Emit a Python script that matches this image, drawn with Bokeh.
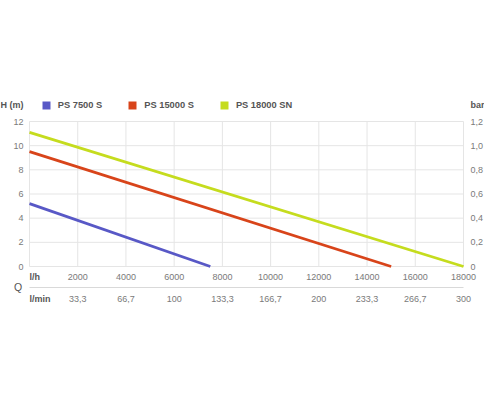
from bokeh.plotting import figure
from bokeh.models import Range1d, Legend, LegendItem
from bokeh.core.properties import value
from bokeh.embed import file_html
from bokeh.resources import INLINE

# pump curves: flow Q (l/h) against head H (m)
series_names = ["PS 7500 S", "PS 15000 S", "PS 18000 SN"]
series_colors = ["#5858c6", "#d8441a", "#c5dc1e"]
flow_ps7500 = [0, 7500]
head_ps7500 = [5.2, 0]
flow_ps15000 = [0, 15000]
head_ps15000 = [9.5, 0]
flow_ps18000 = [0, 18000]
head_ps18000 = [11.1, 0]

# axis ticks
head_ticks = [0, 2, 4, 6, 8, 10, 12]
bar_labels = ["0", "0,2", "0,4", "0,6", "0,8", "1,0", "1,2"]
flow_ticks = [2000, 4000, 6000, 8000, 10000, 12000, 14000, 16000, 18000]
flow_labels = [str(t) for t in flow_ticks]
lmin_labels = ["33,3", "66,7", "100", "133,3", "166,7", "200", "233,3", "266,7", "300"]

FONT = value("Liberation Sans")
GRID = "#e5e5e5"
LABEL = "#7a7a7a"
DARK = "#555555"

# the frame fills the whole canvas; the chart area sits inside it
W, H = 484, 384
left_px, right_px, top_px, bottom_px = 29, 463, 121, 266
q_max, h_max = flow_ticks[-1], head_ticks[-1]
qpp = q_max / (right_px - left_px)
hpp = h_max / (bottom_px - top_px)

p = figure(width=W, height=H, output_backend="svg", toolbar_location=None,
           x_range=Range1d(-left_px * qpp, q_max + (W - right_px) * qpp),
           y_range=Range1d(-(H - bottom_px) * hpp, h_max + top_px * hpp),
           x_axis_location=None, y_axis_location=None, min_border=0)
p.outline_line_color = None
p.xgrid.visible = False
p.ygrid.visible = False

# grid
grid_x = [0] + flow_ticks
p.segment(x0=grid_x, x1=grid_x, y0=[0] * len(grid_x), y1=[h_max] * len(grid_x),
          line_color=GRID, line_width=1)
p.segment(x0=[0] * len(head_ticks), x1=[q_max] * len(head_ticks), y0=head_ticks, y1=head_ticks,
          line_color=GRID, line_width=1)

# separator between the l/h and l/min rows
sep_y = -21 * hpp
p.segment(x0=[0], x1=[q_max], y0=[sep_y], y1=[sep_y], line_color="#d9d9d9", line_width=1)

# tick labels
tick_kw = dict(text_font=FONT, text_font_size="9px", text_color=LABEL, text_baseline="middle")
p.text(x=[0] * len(head_ticks), y=head_ticks, text=[str(t) for t in head_ticks],
       x_offset=-6, text_align="right", **tick_kw)
p.text(x=[q_max] * len(head_ticks), y=head_ticks, text=bar_labels,
       x_offset=7, text_align="left", **tick_kw)
p.text(x=flow_ticks, y=[0] * len(flow_ticks), text=flow_labels,
       y_offset=10.5, text_align="center", **tick_kw)
p.text(x=flow_ticks, y=[0] * len(flow_ticks), text=lmin_labels,
       y_offset=32.5, text_align="center", **tick_kw)

# axis names
name_kw = dict(text_font=FONT, text_font_size="9px", text_color=DARK,
               text_font_style="bold", text_baseline="middle")
p.text(x=[0], y=[h_max], text=["H (m)"], x_offset=-left_px, y_offset=-16.5,
       text_align="left", **name_kw)
p.text(x=[q_max], y=[h_max], text=["bar"], x_offset=W - right_px, y_offset=-16.5,
       text_align="right", **name_kw)
p.text(x=[0], y=[0], text=["l/h"], y_offset=10.5, text_align="left", **name_kw)
p.text(x=[0], y=[0], text=["l/min"], y_offset=32.5, text_align="left", **name_kw)
p.text(x=[0], y=[0], text=["Q"], x_offset=-11.5, y_offset=20.5, text_align="center",
       text_font=FONT, text_font_size="10.5px", text_color=DARK, text_baseline="middle")

# curves
flows = [flow_ps7500, flow_ps15000, flow_ps18000]
heads = [head_ps7500, head_ps15000, head_ps18000]
nan = float("nan")
items = []
for name, color, q, h in zip(series_names, series_colors, flows, heads):
    p.line(q, h, line_color=color, line_width=2.8)
    # undrawn box renderer so the legend shows a filled square
    box = p.quad(left=[nan], right=[nan], bottom=[nan], top=[nan],
                 fill_color=color, line_color=None)
    items.append(LegendItem(label=name, renderers=[box]))

legend = Legend(items=items, orientation="horizontal", location=(40.8, H - 110),
                glyph_width=10, glyph_height=10, label_standoff=7, spacing=25,
                padding=0, margin=0, border_line_color=None, background_fill_alpha=0,
                label_text_font="Liberation Sans", label_text_font_size="9.3px",
                label_text_font_style="bold", label_text_color=DARK,
                label_height=10)
p.add_layout(legend)

open("out.html", "w").write(file_html(p, INLINE))
